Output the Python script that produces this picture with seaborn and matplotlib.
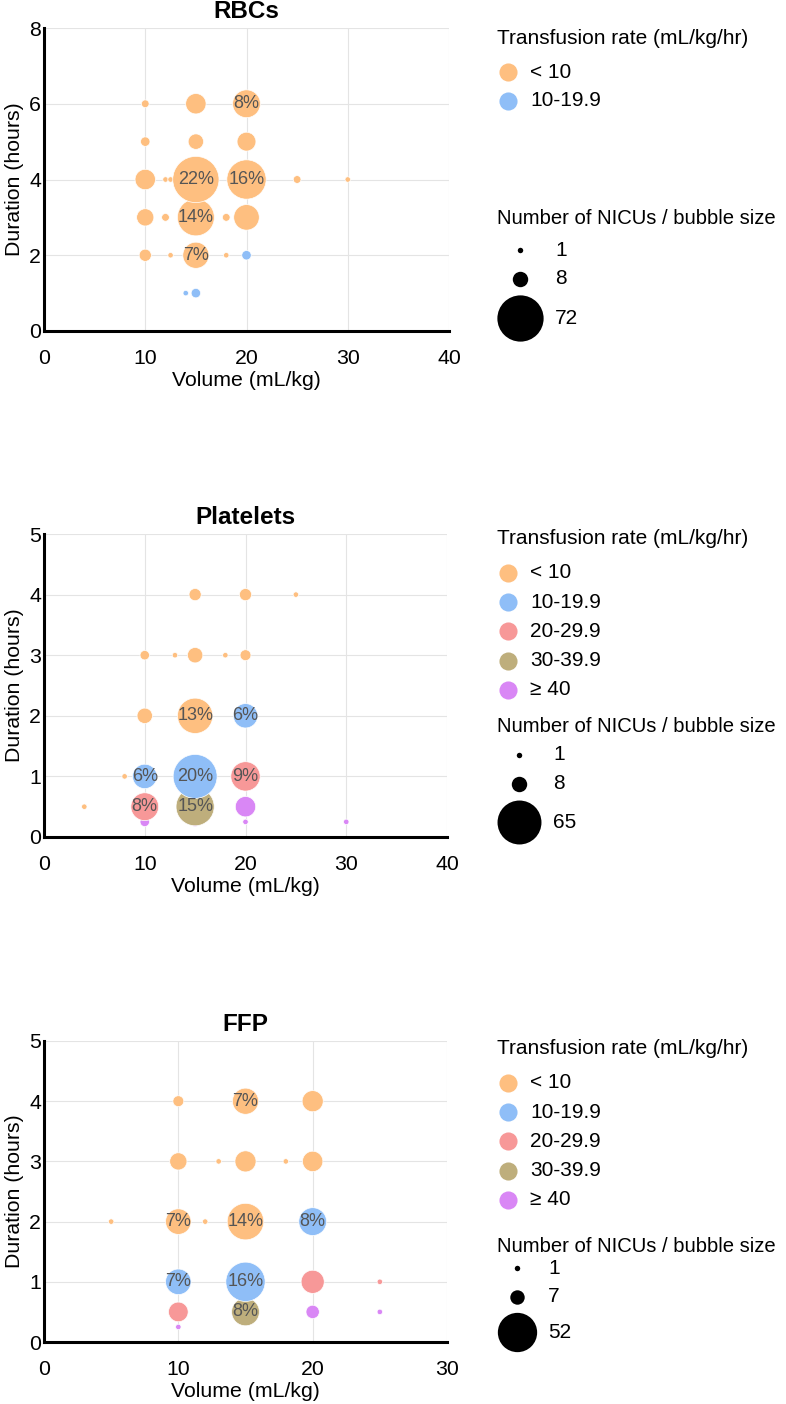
import numpy as np
import pandas as pd
import matplotlib
matplotlib.use("Agg")
import matplotlib.pyplot as plt
import seaborn as sns

sns.set_theme(style="white")
plt.rcParams["font.family"] = ["Liberation Sans", "DejaVu Sans"]
plt.rcParams["text.color"] = "black"

RATE_CATS = ["< 10", "10-19.9", "20-29.9", "30-39.9", "≥ 40"]
RATE_COLORS = ["#FEBF80", "#8FBEF7", "#F79898", "#BEAE7C", "#D987F5"]
PALETTE = dict(zip(RATE_CATS, RATE_COLORS))

# ---------------- RBCs ----------------
rbc_volume   = [10, 15, 20, 10, 15, 20, 10, 12, 12.5, 15, 20, 25, 30, 10, 12, 15, 18, 20, 10, 12.5, 15, 18, 20, 14, 15]
rbc_duration = [6, 6, 6, 5, 5, 5, 4, 4, 4, 4, 4, 4, 4, 3, 3, 3, 3, 3, 2, 2, 2, 2, 2, 1, 1]
rbc_rate     = ["< 10"] * 22 + ["10-19.9"] * 3
rbc_nicus    = [2, 14, 26, 3, 8, 12, 14, 1, 1, 72, 52, 2, 1, 10, 2, 46, 2, 22, 5, 1, 23, 1, 3, 1, 3]
rbc_label    = ["", "", "8%", "", "", "", "", "", "", "22%", "16%", "", "", "", "", "14%", "", "", "", "", "7%", "", "", "", ""]
rbc_size_legend = [1, 8, 72]

# ---------------- Platelets ----------------
plt_volume   = [10, 15, 20, 30, 4, 10, 15, 20, 8, 10, 15, 20, 10, 15, 20, 10, 13, 15, 18, 20, 15, 20, 25]
plt_duration = [0.25, 0.25, 0.25, 0.25, 0.5, 0.5, 0.5, 0.5, 1, 1, 1, 1, 2, 2, 2, 3, 3, 3, 3, 3, 4, 4, 4]
plt_rate     = ["≥ 40", "≥ 40", "≥ 40", "≥ 40", "< 10", "20-29.9", "30-39.9", "≥ 40",
                "< 10", "10-19.9", "10-19.9", "20-29.9", "< 10", "< 10", "10-19.9",
                "< 10", "< 10", "< 10", "< 10", "< 10", "< 10", "< 10", "< 10"]
plt_nicus    = [3, 3, 1, 1, 1, 26, 49, 14, 1, 20, 65, 29, 8, 42, 20, 3, 1, 8, 1, 4, 5, 5, 1]
plt_label    = ["", "", "", "", "", "8%", "15%", "", "", "6%", "20%", "9%", "", "13%", "6%",
                "", "", "", "", "", "", "", ""]
plt_size_legend = [1, 8, 65]

# ---------------- FFP ----------------
ffp_volume   = [10, 10, 15, 20, 25, 10, 15, 20, 25, 5, 10, 12, 15, 20, 10, 13, 15, 18, 20, 10, 15, 20]
ffp_duration = [0.25, 0.5, 0.5, 0.5, 0.5, 1, 1, 1, 1, 2, 2, 2, 2, 2, 3, 3, 3, 3, 3, 4, 4, 4]
ffp_rate     = ["≥ 40", "20-29.9", "30-39.9", "≥ 40", "≥ 40", "10-19.9", "10-19.9", "20-29.9", "20-29.9",
                "< 10", "< 10", "< 10", "< 10", "10-19.9", "< 10", "< 10", "< 10", "< 10", "< 10",
                "< 10", "< 10", "< 10"]
ffp_nicus    = [1, 13, 26, 6, 1, 22, 52, 18, 1, 1, 22, 1, 45, 26, 10, 1, 15, 1, 14, 4, 23, 15]
ffp_label    = ["", "", "8%", "", "", "7%", "16%", "", "", "", "7%", "", "14%", "8%",
                "", "", "", "", "", "", "7%", ""]
ffp_size_legend = [1, 7, 52]

W, H = 786, 1404
fig = plt.figure(figsize=(W / 100, H / 100), dpi=100)

K = 15.4          # marker area (pt^2) per NICU
PX_PER_PT = 100 / 72.0

panels = [
    dict(title="RBCs", vol=rbc_volume, dur=rbc_duration, rate=rbc_rate, n=rbc_nicus, lab=rbc_label,
         sizes=rbc_size_legend, cats=RATE_CATS[:2], xmax=40, ymax=8, yticks=[0, 2, 4, 6, 8],
         rect=(44, 331, 405, 303), leg=dict(title_y=38, item_y0=72, step=28.5, stitle_y=218, s_y0=250)),
    dict(title="Platelets", vol=plt_volume, dur=plt_duration, rate=plt_rate, n=plt_nicus, lab=plt_label,
         sizes=plt_size_legend, cats=RATE_CATS, xmax=40, ymax=5, yticks=[0, 1, 2, 3, 4, 5],
         rect=(44, 837, 403, 303), leg=dict(title_y=538, item_y0=573, step=29.2, stitle_y=727, s_y0=755)),
    dict(title="FFP", vol=ffp_volume, dur=ffp_duration, rate=ffp_rate, n=ffp_nicus, lab=ffp_label,
         sizes=ffp_size_legend, cats=RATE_CATS, xmax=30, ymax=5, yticks=[0, 1, 2, 3, 4, 5],
         rect=(44, 1342, 403, 301), leg=dict(title_y=1048, item_y0=1083, step=29.2, stitle_y=1246, s_y0=1268)),
]

FS = 15.3
LFS = 15.0
lax = fig.add_axes([0, 0, 1, 1], zorder=5)
lax.set_xlim(0, W)
lax.set_ylim(H, 0)
lax.axis("off")
lax.patch.set_alpha(0)

for p in panels:
    x0, yb, w, h = p["rect"]
    ax = fig.add_axes([x0 / W, 1 - yb / H, w / W, h / H])
    df = pd.DataFrame({"volume": p["vol"], "duration": p["dur"], "rate": p["rate"],
                       "n": p["n"], "label": p["lab"]})
    df = df.sort_values("duration", kind="stable")
    size_map = {v: K * v for v in sorted(set(df["n"]))}
    sns.scatterplot(data=df, x="volume", y="duration", hue="rate", hue_order=RATE_CATS,
                    palette=PALETTE, size="n", sizes=size_map, legend=False,
                    edgecolor="white", linewidth=0.5, alpha=1, ax=ax, zorder=3)
    for _, r in df.iterrows():
        if r["label"]:
            ax.text(r["volume"], r["duration"], r["label"], ha="center", va="center",
                    fontsize=13, color="#555555", zorder=4)
    ax.set_xlim(0, p["xmax"])
    ax.set_ylim(0, p["ymax"])
    ax.set_xticks(np.arange(0, p["xmax"] + 1, 10))
    ax.set_yticks(p["yticks"])
    ax.set_axisbelow(True)
    ax.grid(True, color="#e4e4e4", linewidth=0.8)
    for s in ["top", "right"]:
        ax.spines[s].set_visible(False)
    for s in ["left", "bottom"]:
        ax.spines[s].set_color("black")
        ax.spines[s].set_linewidth(2.2)
    ax.tick_params(axis="both", length=0, labelsize=FS, labelcolor="black")
    ax.tick_params(axis="x", pad=13)
    ax.tick_params(axis="y", pad=2)
    ax.set_xlabel("Volume (mL/kg)", fontsize=FS, color="black", labelpad=2)
    ax.set_ylabel("Duration (hours)", fontsize=FS, color="black", labelpad=4)
    ax.set_title(p["title"], fontsize=17.5, fontweight="bold", pad=7, color="black")

    # ---- legends ----
    L = p["leg"]
    lx = 497
    lax.text(lx, L["title_y"], "Transfusion rate (mL/kg/hr)", fontsize=LFS, va="center", ha="left")
    for i, c in enumerate(p["cats"]):
        yy = L["item_y0"] + i * L["step"]
        lax.scatter([lx + 11], [yy], s=170, color=PALETTE[c], linewidth=0)
        lax.text(lx + 33, yy, c, fontsize=LFS, va="center", ha="left")
    lax.text(lx, L["stitle_y"], "Number of NICUs / bubble size", fontsize=14.6, va="center", ha="left")
    radii = [np.sqrt(K * v) * PX_PER_PT / 2 for v in p["sizes"]]
    rmax = max(radii)
    cx = lx + rmax
    yy = L["s_y0"]
    for j, v in enumerate(p["sizes"]):
        if j > 0:
            yy += max(28.5, radii[j - 1] + radii[j] + 9)
        lax.scatter([cx], [yy], s=K * v, color="black", linewidth=0)
        lax.text(cx + rmax + 12, yy, str(v), fontsize=LFS, va="center", ha="left")

fig.savefig("out.png", dpi=100)
